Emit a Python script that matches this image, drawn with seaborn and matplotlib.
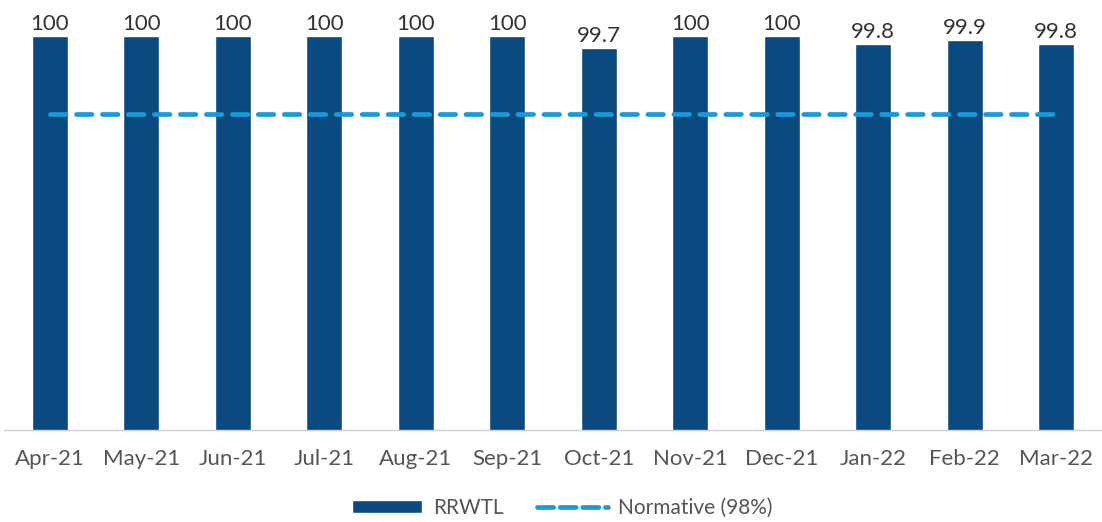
import numpy as np
import pandas as pd
import matplotlib
matplotlib.use('Agg')
import matplotlib.pyplot as plt
import seaborn as sns
from matplotlib.patches import Patch
from matplotlib.lines import Line2D

months = ['Apr-21', 'May-21', 'Jun-21', 'Jul-21', 'Aug-21', 'Sep-21',
          'Oct-21', 'Nov-21', 'Dec-21', 'Jan-22', 'Feb-22', 'Mar-22']
rrwtl = [100, 100, 100, 100, 100, 100, 99.7, 100, 100, 99.8, 99.9, 99.8]
labels = ['100', '100', '100', '100', '100', '100', '99.7', '100', '100', '99.8', '99.9', '99.8']
normative = [98] * 12

bar_color = '#0b4a7e'
line_color = '#1c9ad8'

sns.set_style('white')
plt.rcParams['font.family'] = ['Lato', 'DejaVu Sans']

df = pd.DataFrame({'month': months, 'RRWTL': rrwtl, 'Normative': normative})

fig = plt.figure(figsize=(11.02, 5.22), dpi=100)
ax = fig.add_axes([4 / 1102, 92 / 522, 1098 / 1102, 430 / 522])

sns.barplot(data=df, x='month', y='RRWTL', color=bar_color, width=0.39,
            saturation=1, ax=ax)
sns.lineplot(data=df, x='month', y='Normative', color=line_color, lw=3.4,
             ax=ax, sort=False)
ln = ax.lines[-1]
ln.set_dashes((3.3, 2.2))
ln.set_dash_capstyle('round')

# etiquetas de valor encima de cada barra
for i, (v, t) in enumerate(zip(rrwtl, labels)):
    ax.text(i, v + 0.05, t, ha='center', va='bottom', fontsize=16,
            color='#333333')

ax.set_ylim(89.9, 100.93)
ax.set_xlim(-0.5, 11.5)
ax.set_xlabel('')
ax.set_ylabel('')
ax.set_yticks([])
for s in ['top', 'right', 'left']:
    ax.spines[s].set_visible(False)
ax.spines['bottom'].set_color('#cfcfd8')
ax.spines['bottom'].set_linewidth(1)
ax.tick_params(axis='x', length=0, pad=14, labelsize=16, labelcolor='#555555')

handles = [Patch(facecolor=bar_color, label='RRWTL'),
           Line2D([0], [0], color=line_color, lw=3.4, dashes=(3.4, 1.4),
                  dash_capstyle='round', label='Normative (98%)')]
leg = fig.legend(handles=handles, loc='center', bbox_to_anchor=(0.51, 0.027),
                 ncol=2, frameon=False, fontsize=15, handlelength=3.4,
                 handleheight=0.6, columnspacing=1.6, handletextpad=0.5)
for t in leg.get_texts():
    t.set_color('#555555')

fig.savefig('out.png', dpi=100)
